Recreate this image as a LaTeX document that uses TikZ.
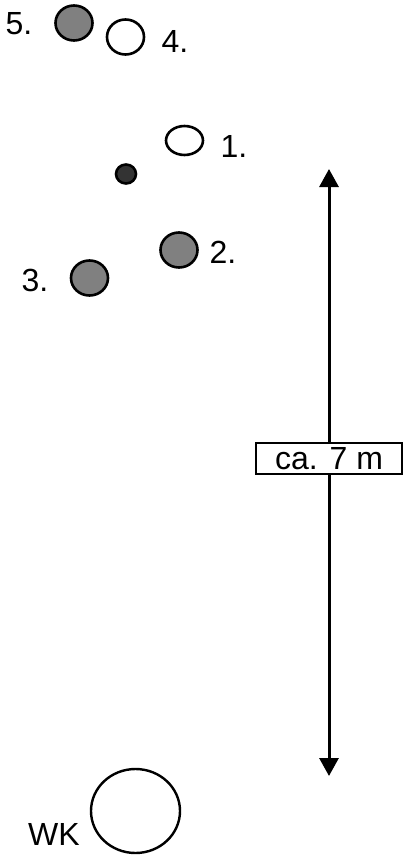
\documentclass[tikz,border=0pt]{standalone}
\usepackage{fontspec}
\setmainfont{Liberation Sans}
\usetikzlibrary{shapes.geometric,arrows.meta}

\begin{document}
\begin{tikzpicture}[x=1pt,y=-1pt,
    ball/.style={ellipse,draw,line width=2.6pt,inner sep=0pt,minimum width=37pt,minimum height=35pt},
    nr/.style={inner sep=0pt,font=\fontsize{32}{38}\selectfont},
    tip/.style={-{Triangle[width=19pt,length=18pt]},line width=3pt}]
    \useasboundingbox (0,0) rectangle (414,859);
    \node[ball,fill=gray] (b5) at (74,23) {};
    \node[ball,fill=white] (b4) at (125.5,37) {};
    \node[ball,fill=white,minimum height=29pt] (b1) at (184.5,140.5) {};
    \node[ball,fill=black!80,minimum width=20pt,minimum height=19pt] (ziel) at (126,174) {};
    \node[ball,fill=gray] (b2) at (179,250) {};
    \node[ball,fill=gray] (b3) at (89.5,278) {};
    \node[ball,fill=white,line width=2.4pt,minimum width=89pt,minimum height=84pt] (wk) at (135.5,811) {};
    \node[nr] (n5) at (19,24) {5.};
    \node[nr] (n4) at (175,41) {4.};
    \node[nr] (n1) at (234,146) {1.};
    \node[nr] (n2) at (223,252) {2.};
    \node[nr] (n3) at (35,280) {3.};
    \node[nr] (nwk) at (54,834) {WK};
    \coordinate (oben) at (329,169);
    \coordinate (unten) at (329,776);
    \node[nr,draw,line width=2.2pt,fill=white,minimum width=146pt,minimum height=31pt] (dist) at (329,458.5) {ca. 7 m};
    \draw[tip] (dist.north) -- (oben);
    \draw[tip] (dist.south) -- (unten);
\end{tikzpicture}
\end{document}
